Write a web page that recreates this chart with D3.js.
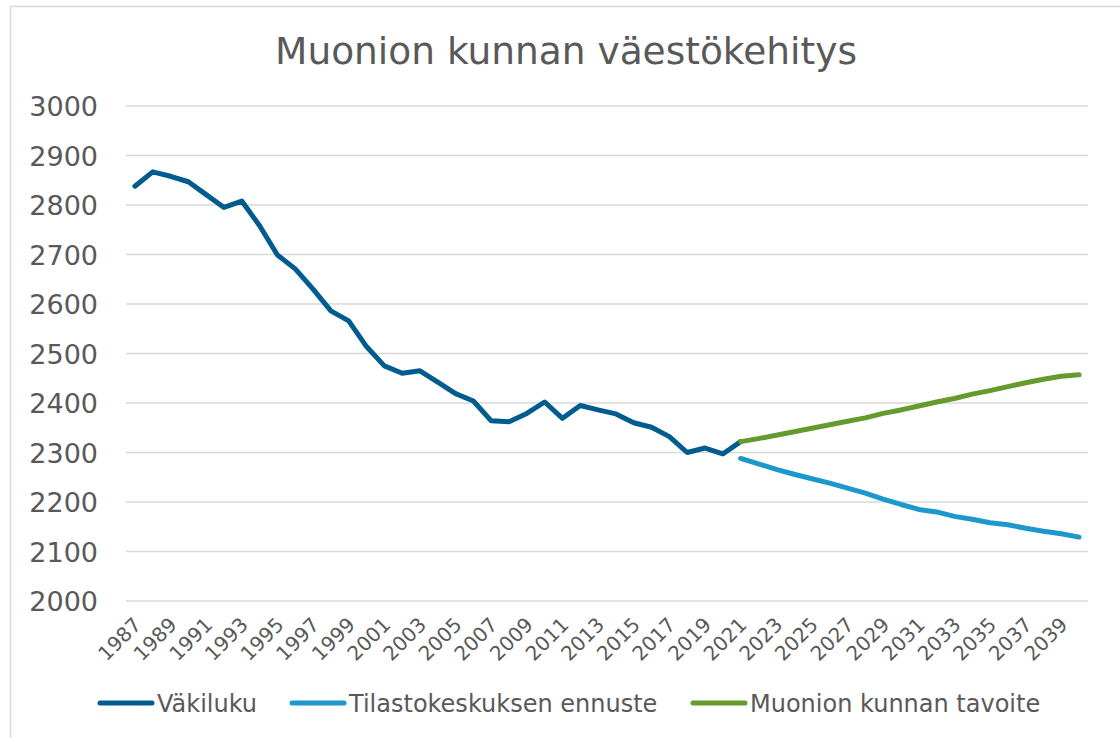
<!DOCTYPE html>
<html>
<head>
<meta charset="utf-8">
<script src="https://cdn.jsdelivr.net/npm/d3@7"></script>
<style>
  html, body { margin: 0; padding: 0; background: #fff; }
  svg { display: block; font-family: "DejaVu Sans", Verdana, sans-serif; }
</style>
</head>
<body>
<svg id="chart" width="1120" height="738"></svg>
<script>
const title = "Muonion kunnan väestökehitys";
const years = d3.range(1987, 2041);
const yTicks = [2000, 2100, 2200, 2300, 2400, 2500, 2600, 2700, 2800, 2900, 3000];
const seriesNames = ["Väkiluku", "Tilastokeskuksen ennuste", "Muonion kunnan tavoite"];
const seriesColors = ["#005c8e", "#1d98cc", "#66992e"];

// 1987–2021
const vakilukuYears = d3.range(1987, 2022);
const vakiluku = [2838, 2867, 2858, 2847, 2821, 2795, 2808, 2758, 2699, 2671,
  2630, 2586, 2566, 2514, 2475, 2460, 2465, 2442, 2419, 2404,
  2364, 2362, 2379, 2402, 2369, 2395, 2386, 2378, 2360, 2351,
  2332, 2300, 2309, 2297, 2322];
// 2021–2040
const forecastYears = d3.range(2021, 2041);
const ennuste = [2288, 2277, 2266, 2256, 2247, 2238, 2228, 2218, 2206, 2195,
  2185, 2180, 2171, 2165, 2158, 2154, 2147, 2141, 2136, 2129];
const tavoite = [2322, 2328, 2335, 2342, 2349, 2356, 2363, 2370, 2379, 2386,
  2394, 2402, 2409, 2418, 2425, 2433, 2441, 2448, 2454, 2457];

const svg = d3.select("#chart");
const textColor = "#595959";

// outer border
svg.append("rect").attr("x", 10.5).attr("y", 6.5).attr("width", 1130).attr("height", 760)
  .attr("fill", "none").attr("stroke", "#d9d9d9").attr("stroke-width", 1.5);

const x = d3.scalePoint().domain(years).range([126, 1088]).padding(0.5);
const y = d3.scaleLinear().domain([2000, 3000]).range([601, 106]);

// title
svg.append("text").attr("x", 566).attr("y", 64).attr("text-anchor", "middle")
  .attr("font-size", 37.5).attr("fill", textColor).text(title);

// gridlines
svg.append("g").selectAll("line").data(yTicks).join("line")
  .attr("x1", 126).attr("x2", 1088)
  .attr("y1", d => y(d)).attr("y2", d => y(d))
  .attr("stroke", "#d9d9d9").attr("stroke-width", 1.5);

// y axis labels
const yAxis = d3.axisLeft(y).tickValues(yTicks).tickSize(0).tickPadding(0).tickFormat(d3.format("d"));
const gy = svg.append("g").attr("transform", "translate(98,0)").call(yAxis);
gy.select(".domain").remove();
gy.selectAll("text").attr("font-size", 27).attr("fill", textColor)
  .attr("font-family", "DejaVu Sans, Verdana, sans-serif").attr("dy", "0.36em");

// x axis labels
const xAxis = d3.axisBottom(x).tickValues(years.filter((d, i) => i % 2 === 0)).tickSize(0).tickPadding(0);
const gx = svg.append("g").attr("transform", "translate(0,601)").call(xAxis);
gx.select(".domain").remove();
gx.selectAll("text")
  .attr("font-size", 20).attr("fill", textColor)
  .attr("font-family", "DejaVu Sans, Verdana, sans-serif")
  .attr("text-anchor", "end")
  .attr("dy", 0).attr("y", 0)
  .attr("transform", "translate(7,25) rotate(-45)");

// lines
const line = d3.line().x(d => x(d[0])).y(d => y(d[1]));
const series = [
  d3.zip(vakilukuYears, vakiluku),
  d3.zip(forecastYears, ennuste),
  d3.zip(forecastYears, tavoite)
];
svg.append("g").selectAll("path").data(series).join("path")
  .attr("d", line)
  .attr("fill", "none")
  .attr("stroke", (d, i) => seriesColors[i])
  .attr("stroke-width", 5)
  .attr("stroke-linejoin", "round")
  .attr("stroke-linecap", "round");

// legend
const legendX = [100, 292, 693];
const lg = svg.append("g").selectAll("g").data(seriesNames).join("g")
  .attr("transform", (d, i) => `translate(${legendX[i]},703)`);
lg.append("line").attr("x1", 0).attr("x2", 52).attr("y1", 0).attr("y2", 0)
  .attr("stroke", (d, i) => seriesColors[i]).attr("stroke-width", 5).attr("stroke-linecap", "round");
lg.append("text").attr("x", 57).attr("y", 8.5).attr("font-size", 24).attr("fill", textColor)
  .text(d => d);
</script>
</body>
</html>
